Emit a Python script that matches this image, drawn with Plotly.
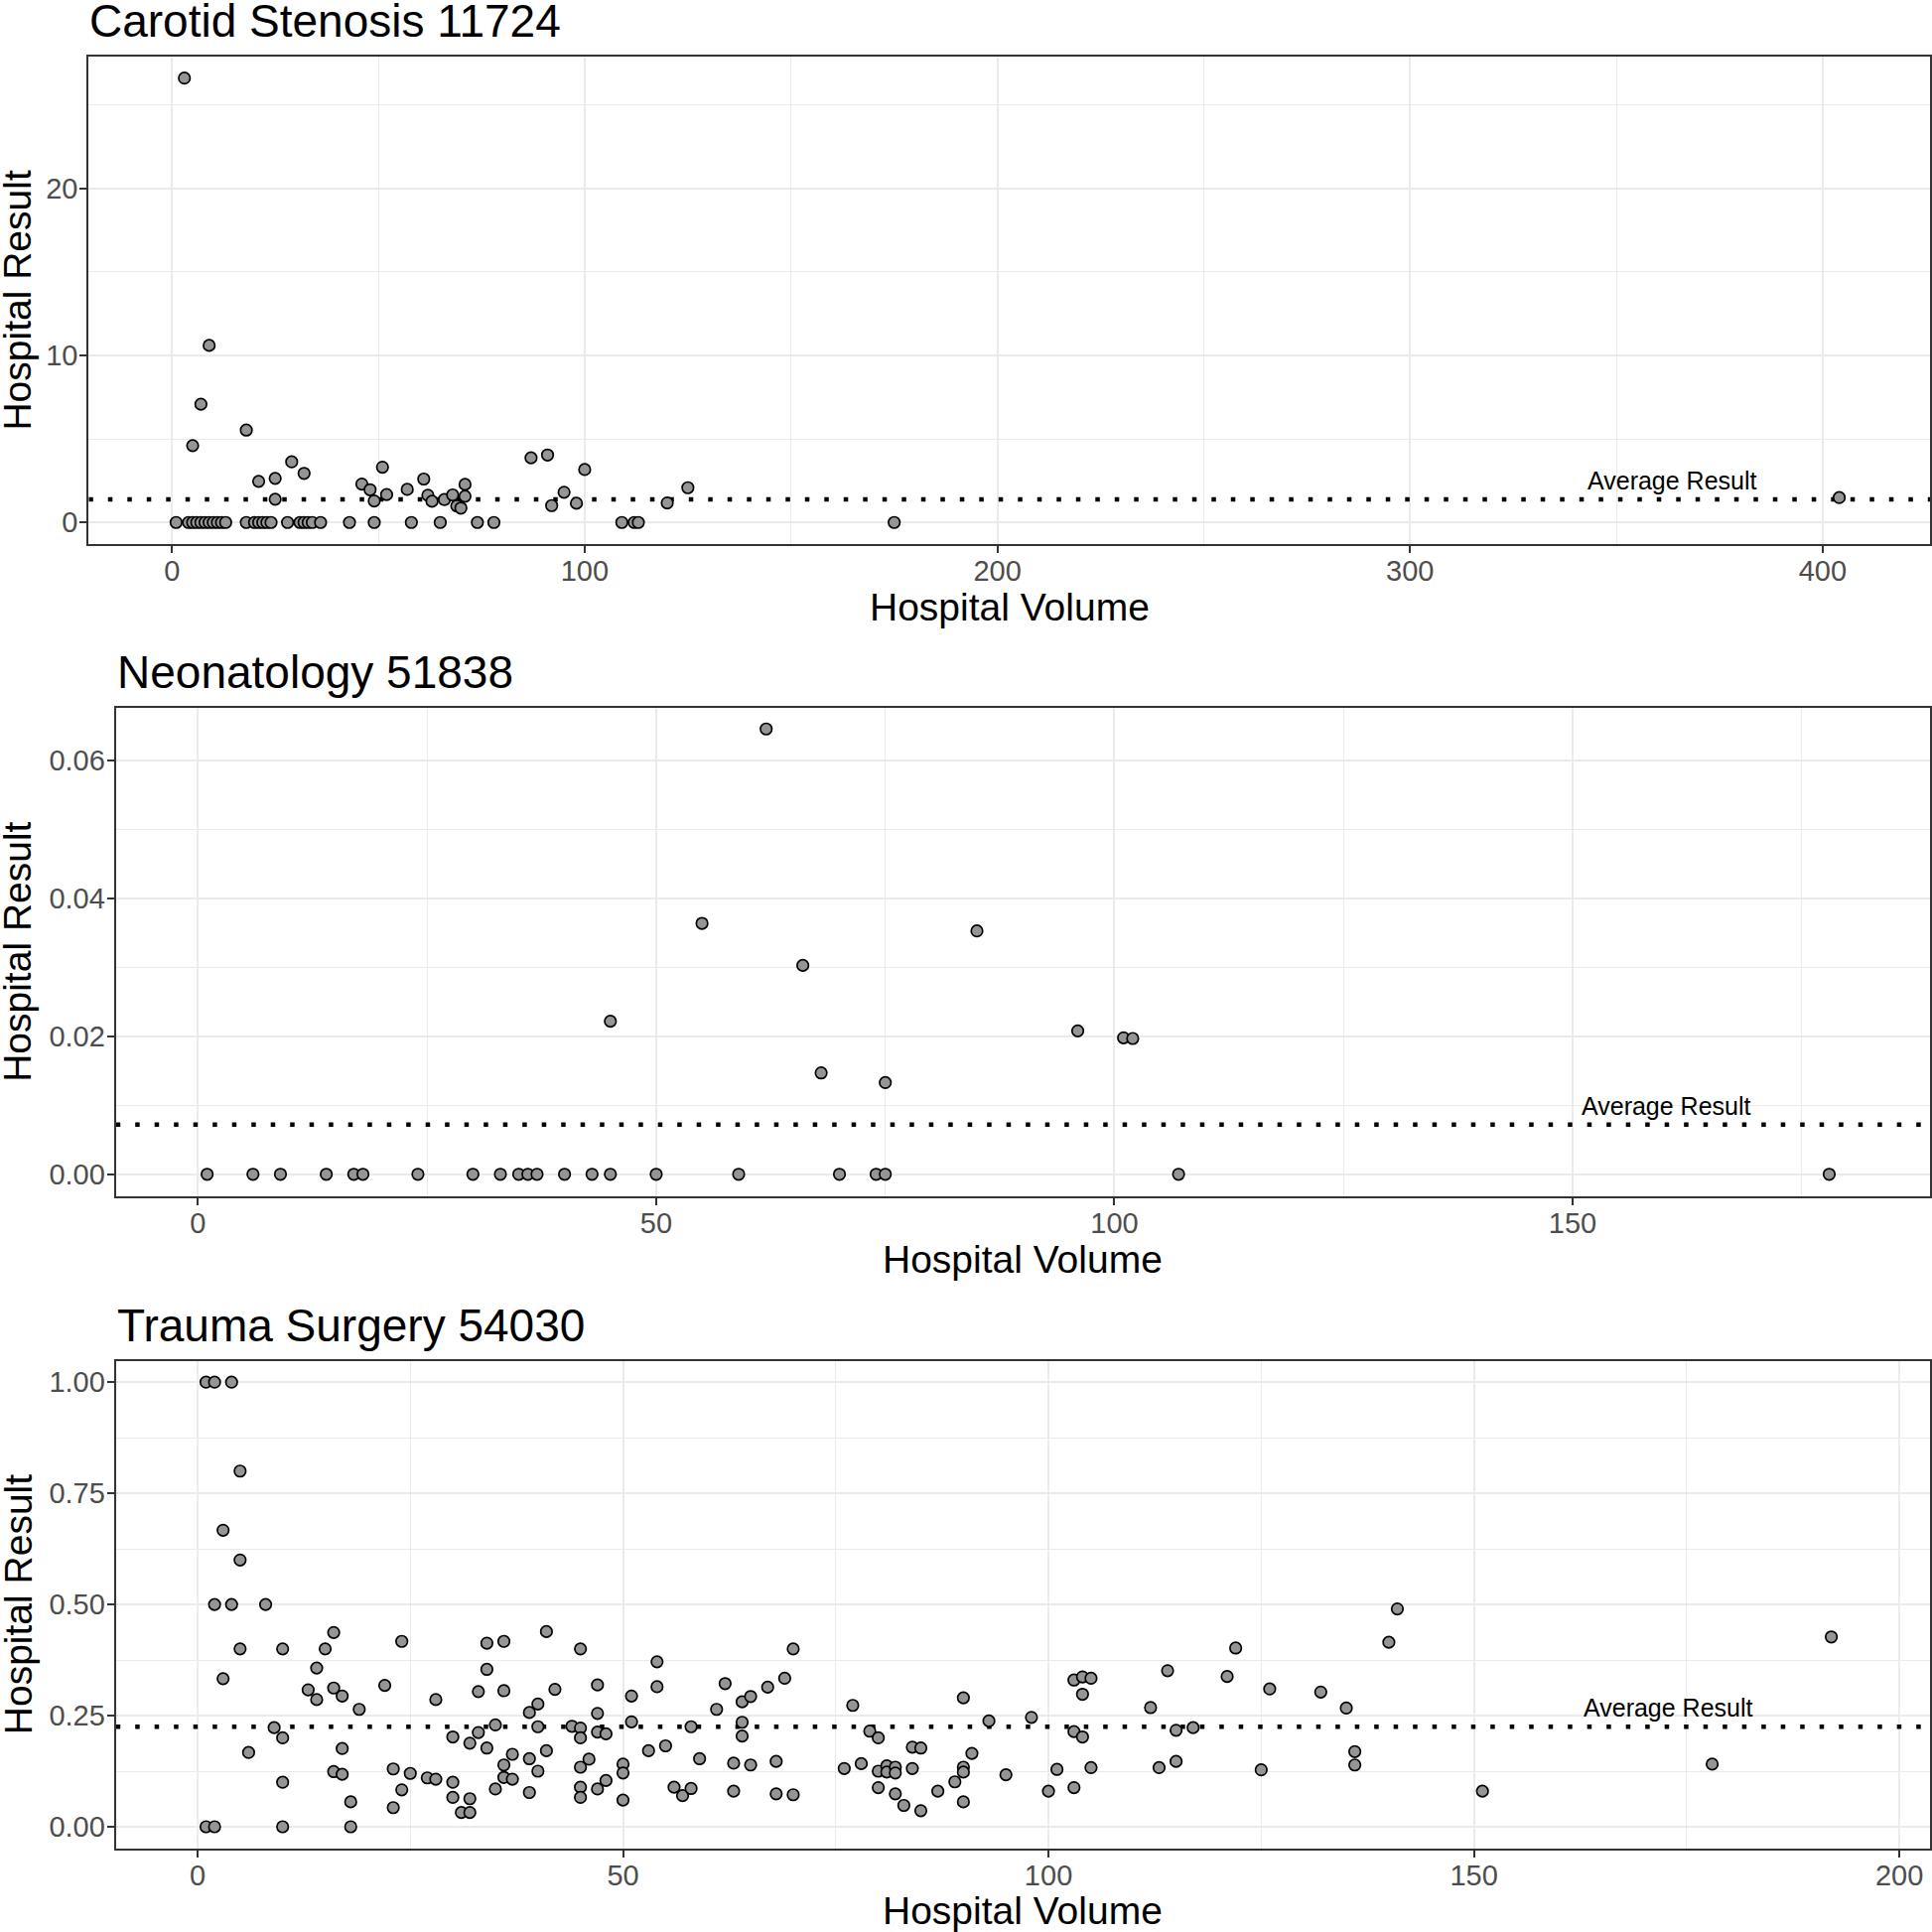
import plotly.graph_objects as go

# ---------------- data ----------------
panel_titles = ["Carotid Stenosis 11724", "Neonatology 51838", "Trauma Surgery 54030"]
x_title = "Hospital Volume"
y_title = "Hospital Result"
avg_label = "Average Result"

carotid_x = [3, 9, 7, 5, 18, 21, 25, 25, 29, 32, 46, 48, 49, 51, 52, 57, 61, 62, 63, 66,
             68, 69, 70, 71, 71, 87, 91, 95, 92, 98, 100, 120, 125, 404,
             1, 4, 5, 6, 7, 8, 9, 10, 11, 12, 13, 18, 20, 21, 22, 23, 24, 28, 31, 32, 33,
             34, 36, 43, 49, 58, 65, 74, 78, 109, 112, 113, 175]
carotid_y = [26.6, 10.6, 7.08, 4.6, 5.53, 2.46, 2.64, 1.39, 3.63, 2.94, 2.30, 1.96, 1.29,
             3.31, 1.67, 1.98, 2.60, 1.63, 1.27, 1.37, 1.65, 0.99, 0.86, 2.28, 1.57, 3.87,
             4.04, 1.81, 1.01, 1.15, 3.17, 1.17, 2.08, 1.49,
             0, 0, 0, 0, 0, 0, 0, 0, 0, 0, 0, 0, 0, 0, 0, 0, 0, 0, 0, 0, 0, 0, 0, 0, 0, 0,
             0, 0, 0, 0, 0, 0, 0]
carotid_avg = 1.38

neo_x = [62, 55, 66, 45, 68, 75, 85, 96, 101, 102,
         1, 6, 9, 14, 17, 18, 24, 30, 33, 35, 36, 37, 40, 43, 45, 50, 59, 70, 74, 75, 107, 178]
neo_y = [0.0646, 0.0364, 0.0303, 0.0222, 0.0147, 0.0133, 0.0353, 0.0208, 0.0198, 0.0197,
         0, 0, 0, 0, 0, 0, 0, 0, 0, 0, 0, 0, 0, 0, 0, 0, 0, 0, 0, 0, 0, 0]
neo_avg = 0.0072

trauma_x = [1, 2, 4, 5, 3, 5, 2, 4, 8, 5, 10, 3, 1, 2, 10, 18, 6, 9, 10, 10,
            16, 15, 14, 13, 14, 16, 17, 19, 17, 16, 17, 18, 24, 22, 23, 25, 24, 23, 27, 28,
            28, 30, 30, 30, 32, 32, 31, 32, 33, 34, 36, 34, 36, 33, 34, 35, 37, 36, 36, 37,
            35, 39, 40, 40, 39, 40, 39, 41, 41, 42, 44, 45, 45, 45, 46, 45, 45, 45, 47, 47,
            47, 48, 48, 47, 51, 51, 50, 50, 50, 54, 54, 53, 55, 56, 57, 58, 58, 59, 61, 62,
            64, 65, 64, 64, 63, 65, 63, 67, 69, 70, 68, 68, 70,
            77, 76, 78, 79, 80, 80, 80, 81, 81, 82, 82, 82, 83, 84, 85, 84, 85, 87, 89, 90,
            90, 90, 90, 91, 93, 95, 98, 100, 101, 103, 104, 105, 104, 103, 104, 105, 103, 112,
            113, 114, 115, 115, 117, 121, 122, 125, 126, 132, 135, 136, 136, 140, 141, 151,
            192, 178]
trauma_y = [1.0, 1.0, 1.0, 0.80, 0.667, 0.60, 0.50, 0.50, 0.50, 0.40, 0.40, 0.333, 0, 0, 0, 0,
            0.167, 0.223, 0.20, 0.10,
            0.437, 0.40, 0.357, 0.308, 0.286, 0.312, 0.294, 0.264, 0.176, 0.124, 0.118, 0.056,
            0.417, 0.318, 0.130, 0.120, 0.083, 0.043, 0.110, 0.107,
            0.286, 0.202, 0.100, 0.066, 0.188, 0.063, 0.032, 0.032, 0.304, 0.413, 0.417, 0.354,
            0.306, 0.212, 0.177, 0.229, 0.163, 0.139, 0.111, 0.107,
            0.085, 0.257, 0.276, 0.225, 0.153, 0.125, 0.077, 0.439, 0.171, 0.309, 0.226, 0.40,
            0.222, 0.20, 0.152, 0.134, 0.089, 0.066, 0.319, 0.255,
            0.213, 0.209, 0.104, 0.085, 0.294, 0.236, 0.141, 0.121, 0.060, 0.371, 0.315, 0.171,
            0.182, 0.089, 0.070, 0.086, 0.225, 0.153, 0.264, 0.322,
            0.281, 0.293, 0.235, 0.204, 0.143, 0.139, 0.080, 0.314, 0.334, 0.40, 0.147, 0.074,
            0.072,
            0.273, 0.131, 0.142, 0.215, 0.200, 0.125, 0.088, 0.137, 0.123, 0.134, 0.121, 0.074,
            0.048, 0.179, 0.177, 0.131, 0.036, 0.080, 0.101, 0.290,
            0.134, 0.123, 0.056, 0.165, 0.238, 0.117, 0.246, 0.080, 0.129, 0.330, 0.337, 0.334,
            0.298, 0.214, 0.202, 0.133, 0.088, 0.268,
            0.133, 0.351, 0.217, 0.147, 0.223, 0.338, 0.402, 0.128, 0.310, 0.303, 0.267, 0.169,
            0.139, 0.415, 0.490, 0.080,
            0.427, 0.141]
trauma_avg = 0.225

# ---------------- layout settings ----------------
W = H = 1946
FONT = "Liberation Sans, Arial, Helvetica, sans-serif"

panels = [
    dict(x=carotid_x, y=carotid_y, avg=carotid_avg, title=panel_titles[0],
         box=(89.3, 1944, 56.8, 548.3), xr=[-20.2, 426.0], yr=[-1.31, 27.9],
         xd=100, xm=50, yd=10, ym=5, yfmt="d", lab_x=363.6),
    dict(x=neo_x, y=neo_y, avg=neo_avg, title=panel_titles[1],
         box=(116.7, 1944, 712.7, 1205), xr=[-8.96, 189.0], yr=[-0.0032, 0.0677],
         xd=50, xm=25, yd=0.02, ym=0.01, yfmt=".2f", lab_x=160.2),
    dict(x=trauma_x, y=trauma_y, avg=trauma_avg, title=panel_titles[2],
         box=(116.7, 1944, 1370.7, 1861.7), xr=[-9.6, 203.6], yr=[-0.0485, 1.048],
         xd=50, xm=25, yd=0.25, ym=0.125, yfmt=".2f", lab_x=172.8),
]

fig = go.Figure()
annotations = []
layout_axes = {}

for i, p in enumerate(panels, start=1):
    sfx = "" if i == 1 else str(i)
    l, r, t, b = p["box"]
    xdom = [l / W, r / W]
    ydom = [1 - b / H, 1 - t / H]
    common = dict(
        showline=True, mirror=True, linecolor="#333333", linewidth=2,
        ticks="outside", ticklen=7, tickwidth=2, tickcolor="#333333",
        showgrid=True, gridcolor="#EBEBEB", gridwidth=2, zeroline=False,
        tickfont=dict(family=FONT, size=29, color="#4D4D4D"),
        fixedrange=True,
    )
    layout_axes["xaxis" + sfx] = dict(
        domain=xdom, range=p["xr"], anchor="y" + sfx, dtick=p["xd"], tick0=0,
        ticklabelstandoff=-7,
        minor=dict(dtick=p["xm"], tick0=0, showgrid=True, gridcolor="#EBEBEB", gridwidth=1, ticks=""),
        **common)
    layout_axes["yaxis" + sfx] = dict(
        domain=ydom, range=p["yr"], anchor="x" + sfx, dtick=p["yd"], tick0=0,
        tickformat=p["yfmt"], ticklabelstandoff=-4,
        minor=dict(dtick=p["ym"], tick0=0, showgrid=True, gridcolor="#EBEBEB", gridwidth=1, ticks=""),
        **common)

    # average reference line (spans the full axis range)
    fig.add_trace(go.Scatter(
        x=p["xr"], y=[p["avg"], p["avg"]], mode="lines", xaxis="x" + sfx, yaxis="y" + sfx,
        line=dict(color="#000000", width=4.5, dash="4.5px,15px"),
        showlegend=False, hoverinfo="skip", cliponaxis=True))

    fig.add_trace(go.Scatter(
        x=p["x"], y=p["y"], mode="markers", xaxis="x" + sfx, yaxis="y" + sfx,
        marker=dict(size=11.5, color="#959595", line=dict(color="#000000", width=1.7)),
        showlegend=False, hoverinfo="skip"))

    annotations.append(dict(
        text=avg_label, x=p["lab_x"], y=p["avg"], xref="x" + sfx, yref="y" + sfx,
        xanchor="center", yanchor="bottom", yshift=3, showarrow=False,
        font=dict(family=FONT, size=25, color="#000000")))

    # panel title
    annotations.append(dict(
        text=p["title"], x=(l - 1) / W, y=1 - (t - 36) / H, xref="paper", yref="paper",
        xanchor="left", yanchor="middle", showarrow=False,
        font=dict(family=FONT, size=46, color="#000000")))
    # x axis title
    annotations.append(dict(
        text=x_title, x=(l + r) / 2 / W, y=1 - (b + 63) / H, xref="paper", yref="paper",
        xanchor="center", yanchor="middle", showarrow=False,
        font=dict(family=FONT, size=39, color="#000000")))
    # y axis title
    annotations.append(dict(
        text=y_title, x=18 / W, y=1 - (t + b) / 2 / H, xref="paper", yref="paper",
        xanchor="center", yanchor="middle", textangle=-90, showarrow=False,
        font=dict(family=FONT, size=39, color="#000000")))

fig.update_layout(
    width=W, height=H, margin=dict(l=0, r=0, t=0, b=0),
    paper_bgcolor="white", plot_bgcolor="white",
    font=dict(family=FONT),
    annotations=annotations,
    **layout_axes)

fig.write_html("out.html", config={"displayModeBar": False},
               post_script="document.body.style.margin='0px';")
